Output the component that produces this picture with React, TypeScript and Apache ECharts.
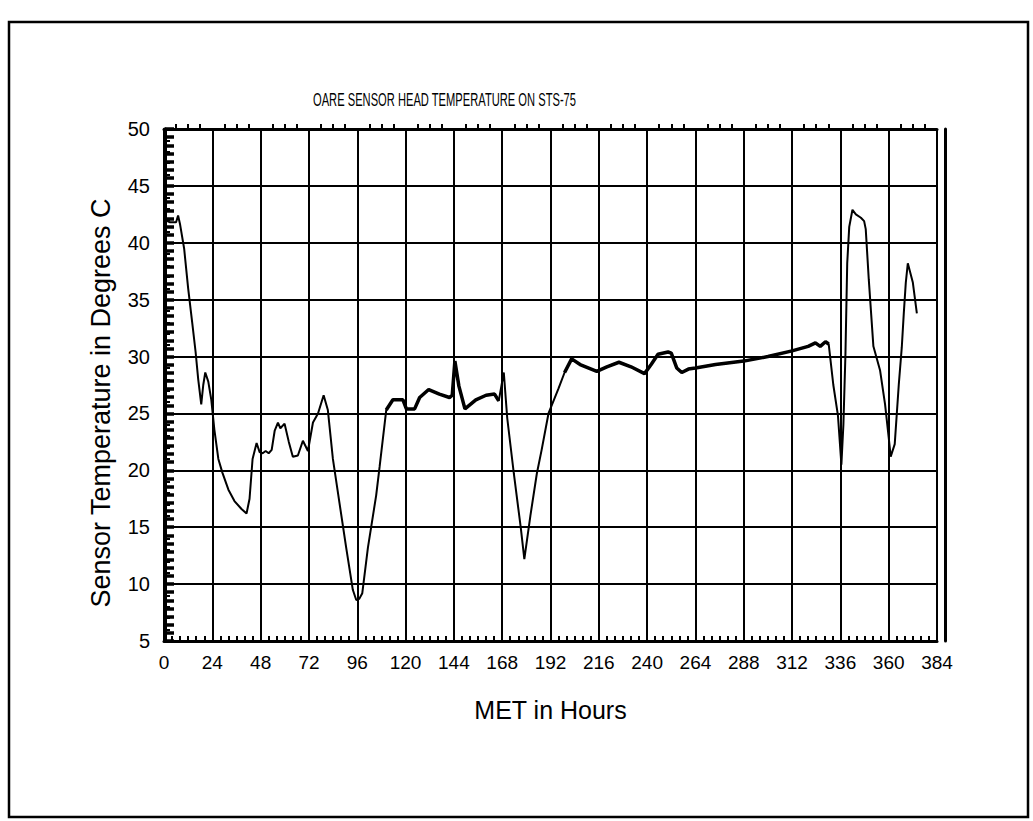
import React, { useEffect, useRef } from "react";
import * as echarts from "echarts";

const title = "OARE SENSOR HEAD TEMPERATURE ON STS-75";
const xName = "MET in Hours";
const yName = "Sensor Temperature in Degrees C";

// MET hours and temperature (deg C)
const hours = [
  0, 0.6, 3, 6, 7, 8, 10, 12, 14, 15.7, 17, 18.5, 19.5, 20.5, 22, 23.5, 25, 27, 29, 32, 35, 38.5, 41, 42.5, 44, 46,
  47.5, 49, 50.5, 52, 53.5, 55, 56.6, 57.8, 59.9, 62, 64, 66.5, 69, 71.5, 74, 76.5, 79.3, 81.4, 83.9, 87.2, 90.5,
  93.8, 95.5, 97, 98.5, 101.3, 105.4, 107.1, 110.4, 113.7, 118.7, 120.4, 124.5, 127, 131.5, 136.8, 141.8, 143.2,
  144.5, 146.5, 149.5, 154.9, 160, 164.2, 166.3, 168.8, 170.5, 173.8, 177.2, 179, 182, 185.2, 187.6, 191, 196, 199,
  202.5, 206.7, 215, 220, 226, 232, 238.7, 242, 245.4, 250.4, 252, 254.7, 257.2, 260.5, 264, 274, 288, 300, 312,
  320, 323.6, 326, 328.6, 330.2, 332.5, 334.8, 336.5, 337.5, 338.5, 339.4, 340.4, 342, 343.7, 346.2, 347.8, 348.6,
  350.1, 352.4, 355.7, 358.2, 360, 361, 363, 365, 366.5, 367.5, 368.5, 369.5, 372, 374,
];
const temps = [
  40.8, 42.0, 41.8, 41.8, 42.4, 41.6, 39.5, 36.0, 33.0, 30.4, 28.0, 25.8, 27.5, 28.6, 27.8, 26.2, 23.6, 21.0, 19.8,
  18.3, 17.3, 16.6, 16.2, 17.5, 21.0, 22.4, 21.6, 21.5, 21.7, 21.5, 21.8, 23.5, 24.2, 23.7, 24.1, 22.5, 21.2, 21.3,
  22.6, 21.7, 24.2, 25.0, 26.6, 25.3, 21.0, 17.1, 13.2, 9.5, 8.6, 8.7, 9.2, 13.2, 17.8, 20.3, 25.3, 26.2, 26.2, 25.4,
  25.4, 26.4, 27.1, 26.7, 26.4, 26.6, 29.6, 27.4, 25.4, 26.2, 26.6, 26.7, 26.1, 28.6, 24.6, 19.7, 15.0, 12.2, 16.0,
  19.7, 21.8, 25.0, 27.2, 28.6, 29.8, 29.3, 28.7, 29.1, 29.5, 29.1, 28.5, 29.3, 30.2, 30.4, 30.3, 29.0, 28.6, 28.9,
  29.0, 29.3, 29.6, 30.0, 30.5, 30.9, 31.2, 30.9, 31.3, 31.1, 27.5, 24.8, 20.5, 24.0, 30.1, 38.2, 41.4, 42.9, 42.5,
  42.2, 41.9, 41.2, 36.8, 30.9, 28.8, 25.8, 22.9, 21.2, 22.3, 27.5, 30.8, 33.8, 36.5, 38.2, 36.5, 33.8, 32.2,
];

const xMin = 0;
const xMax = 384;
const xStep = 24;
const yMin = 5;
const yMax = 50;
const yStep = 5;

// slowly varying stretches drawn with the heavier pen
const heavyRanges = [
  [110, 168],
  [199, 331],
];

const SANS = "'Liberation Sans', Arial, sans-serif";

export default function App() {
  const ref = useRef<HTMLDivElement>(null);
  useEffect(() => {
    if (!ref.current) return;
    const chart = echarts.init(ref.current, null, { renderer: "svg" });
    const data = hours.map((h, i) => [h, temps[i]]);
    const heavy = heavyRanges.map((r) => data.filter((d) => d[0] >= r[0] && d[0] <= r[1]));
    const black = "#000";
    chart.setOption({
      animation: false,
      backgroundColor: "#fff",
      grid: { left: 164, right: 96, top: 129, bottom: 180, containLabel: false },
      graphic: [
        {
          type: "rect",
          shape: { x: 9, y: 22, width: 1019, height: 795 },
          style: { fill: "none", stroke: black, lineWidth: 2.5 },
          silent: true,
        },
        {
          type: "text",
          x: 313,
          y: 90,
          scaleX: 0.62,
          style: {
            text: title,
            fontFamily: SANS,
            fontSize: 18,
            fill: black,
            textVerticalAlign: "top",
          },
          silent: true,
        },
      ],
      xAxis: [
        {
          type: "value",
          position: "bottom",
          min: xMin,
          max: xMax,
          interval: xStep,
          name: xName,
          nameLocation: "middle",
          nameGap: 56,
          nameTextStyle: { fontFamily: SANS, fontSize: 25, color: black },
          axisLine: { show: true, lineStyle: { color: black, width: 3 } },
          axisTick: { show: true, inside: true, length: 7, lineStyle: { color: black, width: 2 } },
          minorTick: { show: true, splitNumber: 6, length: 5, lineStyle: { color: black, width: 2 } },
          axisLabel: { margin: 12, fontFamily: SANS, fontSize: 19, color: black },
          splitLine: { show: true, lineStyle: { color: black, width: 2 } },
        },
        {
          type: "value",
          position: "top",
          min: xMin,
          max: xMax,
          interval: xStep,
          axisLine: { show: true, lineStyle: { color: black, width: 3 } },
          axisTick: { show: false },
          minorTick: { show: true, splitNumber: 4, length: 5, lineStyle: { color: black, width: 2 } },
          axisLabel: { show: false },
          splitLine: { show: false },
        },
      ],
      yAxis: [
        {
          type: "value",
          position: "left",
          min: yMin,
          max: yMax,
          interval: yStep,
          name: yName,
          nameLocation: "middle",
          nameGap: 50,
          nameTextStyle: { fontFamily: SANS, fontSize: 27, color: black, padding: [0, 36, 0, 0] },
          axisLine: { show: true, lineStyle: { color: black, width: 3 } },
          axisTick: { show: true, inside: true, length: 7, lineStyle: { color: black, width: 2 } },
          minorTick: { show: true, splitNumber: 5, length: 6, lineStyle: { color: black, width: 2 } },
          axisLabel: { margin: 14, fontFamily: SANS, fontSize: 20, color: black },
          splitLine: { show: true, lineStyle: { color: black, width: 2 } },
        },
        {
          type: "value",
          position: "right",
          offset: -1,
          min: yMin,
          max: yMax,
          interval: yStep,
          axisLine: { show: true, lineStyle: { color: black, width: 3 } },
          axisTick: { show: true, inside: false, length: 9, lineStyle: { color: black, width: 3.5 } },
          minorTick: { show: true, splitNumber: 7, length: 9, lineStyle: { color: black, width: 3.5 } },
          axisLabel: { show: false },
          splitLine: { show: false },
        },
        {
          type: "value",
          position: "right",
          offset: 8,
          min: yMin,
          max: yMax,
          interval: yStep,
          axisLine: { show: true, lineStyle: { color: black, width: 3 } },
          axisTick: { show: false },
          axisLabel: { show: false },
          splitLine: { show: false },
        },
      ],
      series: [
        {
          type: "line",
          data,
          xAxisIndex: 0,
          yAxisIndex: 0,
          showSymbol: false,
          symbol: "none",
          lineStyle: { color: black, width: 2 },
          z: 5,
        },
        ...heavy.map((d) => ({
          type: "line",
          data: d,
          xAxisIndex: 0,
          yAxisIndex: 0,
          showSymbol: false,
          symbol: "none",
          lineStyle: { color: black, width: 3.5 },
          z: 6,
        })),
      ],
    });
    return () => chart.dispose();
  }, []);
  return (
    <div
      ref={ref}
      style={{ position: "fixed", left: 0, top: 0, width: 1033, height: 821, background: "#fff" }}
    />
  );
}
